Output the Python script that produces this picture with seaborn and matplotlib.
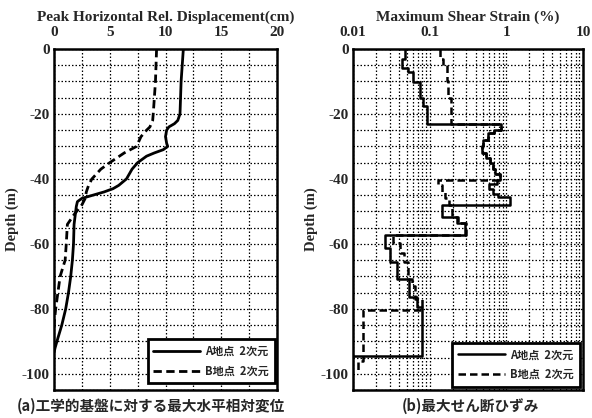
import numpy as np
import pandas as pd
import matplotlib
matplotlib.use("Agg")
import matplotlib.pyplot as plt
from matplotlib.ticker import MultipleLocator, LogLocator, FixedLocator, NullFormatter
import seaborn as sns

# ---------------- data ----------------
# (a) Peak horizontal relative displacement (cm) vs depth (m)
disp_a_depth = [0, -5, -10, -15, -20, -22, -23, -24, -25, -27, -29, -30, -31, -32, -33, -35, -37,
                -40, -42, -43, -44, -45, -46, -47, -48.5, -54, -60, -65, -70, -75, -80, -85, -89,
                -92, -93.5]
disp_a_val = [11.6, 11.5, 11.4, 11.35, 11.3, 11.1, 10.8, 10.3, 10.1, 10.0, 10.1, 10.2, 9.8, 9.0,
              8.3, 7.5, 7.0, 6.5, 5.8, 5.3, 4.5, 3.5, 2.5, 2.1, 2.0, 1.8, 1.75, 1.65, 1.5, 1.3,
              1.05, 0.7, 0.35, 0.1, 0.0]
disp_b_depth = [0, -5, -10, -15, -20, -22, -24, -25, -27, -30, -32, -35, -37, -40, -42, -44, -46,
                -48, -51, -54, -60, -65, -70, -75, -80, -84, -86]
disp_b_val = [9.2, 9.15, 9.1, 9.0, 8.9, 8.85, 8.6, 8.3, 7.8, 7.4, 6.3, 5.0, 4.2, 3.4, 3.1, 2.9,
              2.8, 2.5, 1.8, 1.2, 1.1, 1.0, 0.55, 0.35, 0.15, 0.03, 0.0]

# (b) Maximum shear strain (%) : layer top depths, layer values, final depth / end value
strain_a_top = [0, -3.1, -5.7, -7.2, -10.3, -15, -17.5, -23.2, -24.8, -26, -28, -30, -32, -33.5,
                -35, -37, -38.5, -40.2, -41.5, -43, -44.5, -45.5, -48, -51.6, -53.7, -57.3,
                -61.4, -65.5, -70.7, -76.4, -79.5]
strain_a_val = [0.048, 0.043, 0.052, 0.061, 0.075, 0.082, 0.091, 0.86, 0.70, 0.57, 0.50, 0.48,
                0.55, 0.62, 0.67, 0.72, 0.82, 0.75, 0.60, 0.68, 0.78, 1.1, 0.143, 0.225, 0.29,
                0.026, 0.030, 0.037, 0.053, 0.068, 0.079]
strain_a_end = (-94.4, 0.0101)

strain_b_top = [0, -3, -5, -10, -15, -23.2, -24.8, -26, -28, -30, -32, -33.5, -35, -37, -38.5,
                -40.2, -42, -44, -46, -48, -51.6, -53.7, -57.3, -59.8, -62.9, -65.5, -70.7,
                -73, -77, -80.5, -96]
strain_b_val = [0.136, 0.15, 0.166, 0.175, 0.19, 0.86, 0.70, 0.57, 0.50, 0.48, 0.55, 0.62, 0.67,
                0.72, 0.82, 0.13, 0.145, 0.16, 0.18, 0.195, 0.235, 0.30, 0.033, 0.041, 0.046,
                0.052, 0.058, 0.064, 0.079, 0.0136, 0.0115]
strain_b_end = (-99, 0.0112)

label_a = "A地点  2次元"
label_b = "B地点  2次元"

# ---------------- helpers ----------------
def step_path(tops, vals, end):
    xs, ys = [], []
    for i, (d, v) in enumerate(zip(tops, vals)):
        nxt = tops[i + 1] if i + 1 < len(tops) else end[0]
        xs += [v, v]
        ys += [d, nxt]
    xs.append(end[1])
    ys.append(end[0])
    return xs, ys

sns.set_theme(style="white")
plt.rcParams["axes.unicode_minus"] = False
plt.rcParams["font.family"] = ["Liberation Serif", "Noto Sans CJK JP", "DejaVu Sans"]
plt.rcParams["font.weight"] = "bold"

fig = plt.figure(figsize=(5.92, 4.18), dpi=100)
ax1 = fig.add_axes([54 / 592, 1 - 390 / 418, 223 / 592, 341 / 418])
ax2 = fig.add_axes([353 / 592, 1 - 390 / 418, 230 / 592, 341 / 418])

# ---------------- panel (a) ----------------
dfa = pd.DataFrame({"x": disp_a_val, "y": disp_a_depth})
dfb = pd.DataFrame({"x": disp_b_val, "y": disp_b_depth})
sns.lineplot(data=dfa, x="x", y="y", sort=False, estimator=None, color="black", lw=2.0,
             ax=ax1, label=label_a)
sns.lineplot(data=dfb, x="x", y="y", sort=False, estimator=None, color="black", lw=2.0,
             ax=ax1, label=label_b, linestyle=(0, (3, 1.6)))

# ---------------- panel (b) ----------------
xa, ya = step_path(strain_a_top, strain_a_val, strain_a_end)
xb, yb = step_path(strain_b_top, strain_b_val, strain_b_end)
sns.lineplot(x=xb, y=yb, sort=False, estimator=None, color="black", lw=1.8, ax=ax2,
             label=label_b, linestyle=(0, (3, 1.6)))
sns.lineplot(x=xa, y=ya, sort=False, estimator=None, color="black", lw=1.8, ax=ax2,
             label=label_a)

title_font = dict(family="Liberation Serif", weight="bold", size=11)
label_font = dict(family="Liberation Serif", weight="bold", size=10.5)

for ax in (ax1, ax2):
    ax.set_ylim(-105, 0)
    ax.yaxis.set_major_locator(MultipleLocator(20))
    ax.yaxis.set_minor_locator(MultipleLocator(5))
    ax.xaxis.tick_top()
    ax.xaxis.set_label_position("top")
    ax.grid(True, which="both", color="black", linestyle=(0, (1.2, 1.6)), lw=0.9)
    ax.tick_params(which="both", direction="in", length=0, labelsize=11)
    ax.tick_params(axis="x", pad=7)
    ax.tick_params(axis="y", pad=3)
    for sp in ax.spines.values():
        sp.set_color("black")
        sp.set_linewidth(1.8)
    ax.set_ylabel("Depth (m)", fontdict=label_font, labelpad=2)

ax1.set_xlim(0, 20)
ax1.xaxis.set_major_locator(MultipleLocator(5))
ax1.xaxis.set_minor_locator(MultipleLocator(2.5))
ax1.set_xlabel("Peak Horizontal Rel. Displacement(cm)", fontdict=title_font, labelpad=4)

ax2.set_xscale("log")
ax2.set_xlim(0.01, 10)
ax2.xaxis.set_major_locator(FixedLocator([0.01, 0.1, 1, 10]))
ax2.set_xticklabels(["0.01", "0.1", "1", "10"])
ax2.xaxis.set_minor_locator(LogLocator(base=10, subs=np.arange(2, 10)))
ax2.xaxis.set_minor_formatter(NullFormatter())
ax2.set_xlabel("Maximum Shear Strain (%)", fontdict=title_font, labelpad=4)

for ax in (ax1, ax2):
    for lab in ax.get_xticklabels() + ax.get_yticklabels():
        lab.set_fontfamily("Liberation Serif")
        lab.set_fontweight("bold")

# legends
leg_font = dict(family=["Noto Sans CJK JP", "DejaVu Sans"], weight="bold", size=8)
anchors = {ax1: (0.99, 0.02), ax2: (0.985, 0.01)}
for ax in (ax1, ax2):
    h, l = ax.get_legend_handles_labels()
    order = [l.index(label_a), l.index(label_b)]
    leg = ax.legend([h[i] for i in order], [l[i] for i in order], loc="lower right",
                    prop=leg_font, handlelength=4.2, fancybox=False, framealpha=1,
                    borderpad=0.5, labelspacing=0.6, handletextpad=0.5,
                    borderaxespad=0, bbox_to_anchor=anchors[ax])
    leg.get_frame().set_edgecolor("black")
    leg.get_frame().set_linewidth(2.0)

cap_font = ["Noto Sans CJK JP", "DejaVu Sans"]
fig.text(151 / 592, 1 - 406 / 418, "(a)工学的基盤に対する最大水平相対変位", ha="center",
         va="center", family=cap_font, weight="bold", fontsize=10.5)
fig.text(470 / 592, 1 - 406 / 418, "(b)最大せん断ひずみ", ha="center", va="center",
         family=cap_font, weight="bold", fontsize=10.5)

fig.savefig("out.png", dpi=100, facecolor="white")
